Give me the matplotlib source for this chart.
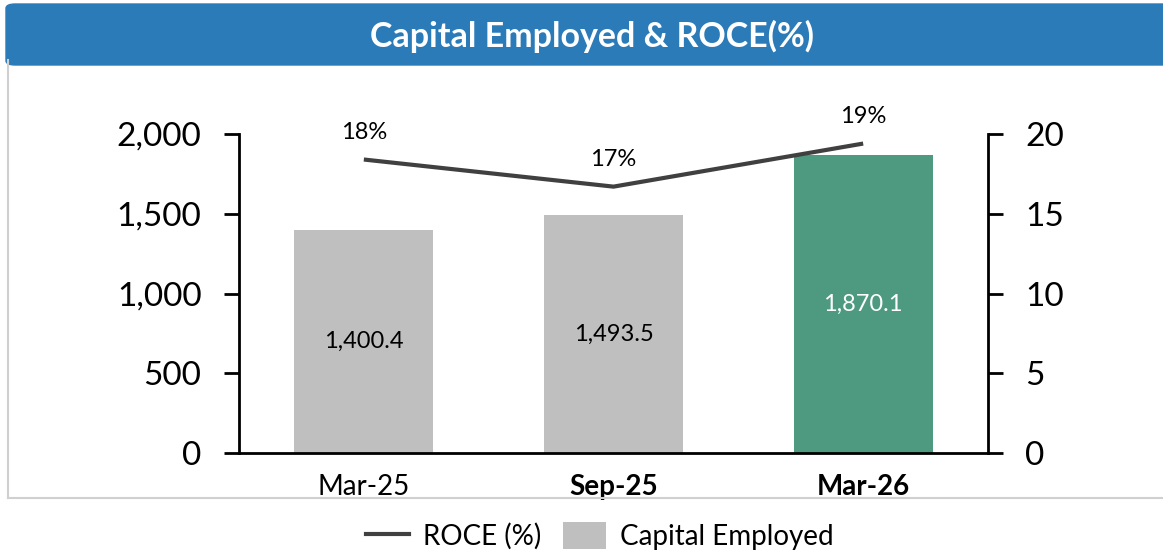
import matplotlib
matplotlib.use("Agg")
import matplotlib.pyplot as plt
from matplotlib.patches import FancyBboxPatch, Rectangle
from matplotlib.lines import Line2D

categories = ["Mar-25", "Sep-25", "Mar-26"]
capital_employed = [1400.4, 1493.5, 1870.1]
roce = [18.4, 16.7, 19.4]
roce_labels = ["18%", "17%", "19%"]
bar_labels = ["1,400.4", "1,493.5", "1,870.1"]
bold_ticks = [False, True, True]
left_ticks = [0, 500, 1000, 1500, 2000]
left_tick_labels = ["0", "500", "1,000", "1,500", "2,000"]
right_ticks = [0, 5, 10, 15, 20]

plt.rcParams['font.family'] = ['Lato', 'DejaVu Sans']

W, H = 1163, 555
fig = plt.figure(figsize=(W / 100, H / 100), dpi=100)

# outer frame and header
fig.add_artist(Line2D([8 / W, 8 / W], [1 - 60 / H, 1 - 498 / H], color="#D0D0D0", lw=1.5, transform=fig.transFigure))
fig.add_artist(Line2D([8 / W, 1.0], [1 - 498 / H, 1 - 498 / H], color="#D0D0D0", lw=1.5, transform=fig.transFigure))
hdr = FancyBboxPatch((6 / W, 1 - 65 / H), 1.05 - 6 / W, 61 / H,
                     boxstyle="round,pad=0,rounding_size=0.008",
                     transform=fig.transFigure, facecolor="#2B7BB9", edgecolor="#2B7BB9", mutation_aspect=H / W * 2)
fig.add_artist(hdr)
fig.text(592 / W, 1 - 36 / H, "Capital Employed & ROCE(%)", color="white", fontsize=24.5,
         fontweight="bold", ha="center", va="center")

ax = fig.add_axes([239 / W, 1 - 453 / H, (988 - 239) / W, (453 - 134) / H])
x = list(range(len(categories)))
colors = ["#BFBFBF", "#BFBFBF", "#4E9A80"]
bars = ax.bar(x, capital_employed, width=0.556, color=colors, zorder=2)
ax.set_xlim(-0.5, 2.5)
ax.set_ylim(0, 2000)
ax.set_yticks(left_ticks)
ax.set_yticklabels(left_tick_labels, fontsize=24)
ax.set_xticks(x)
ax.set_xticklabels(categories, fontsize=20)
for lbl, b in zip(ax.get_xticklabels(), bold_ticks):
    if b:
        lbl.set_fontweight("bold")
ax.tick_params(axis="x", length=0, pad=15)
ax.tick_params(axis="y", length=11, width=2, pad=16)
for s in ["top", "right"]:
    ax.spines[s].set_visible(False)
ax.spines["left"].set_linewidth(2)
ax.spines["bottom"].set_linewidth(2)

for i, (v, t) in enumerate(zip(capital_employed, bar_labels)):
    ax.text(i, v / 2, t, ha="center", va="center", fontsize=17,
            color="white" if i == 2 else "black", zorder=4)

ax2 = ax.twinx()
ax2.set_ylim(0, 20)
ax2.set_yticks(right_ticks)
ax2.set_yticklabels([str(t) for t in right_ticks], fontsize=24)
ax2.tick_params(axis="y", length=11, width=2, pad=16)
for s in ["top", "left", "bottom"]:
    ax2.spines[s].set_visible(False)
ax2.spines["right"].set_linewidth(2)
ax2.plot(x, roce, color="#404040", lw=3, zorder=3, solid_capstyle="butt")
for i, (v, t) in enumerate(zip(roce, roce_labels)):
    ax2.annotate(t, (i, v), xytext=(0, 12), textcoords="offset points",
                 ha="center", va="bottom", fontsize=17)

handles = [Line2D([0], [0], color="#404040", lw=3),
           Rectangle((0, 0), 1, 1, facecolor="#BFBFBF")]
fig.legend(handles, ["ROCE (%)", "Capital Employed"], loc="center",
           bbox_to_anchor=(600 / W, 1 - 536 / H), ncol=2, frameon=False,
           fontsize=20, handlelength=1.55, handleheight=1.1, columnspacing=0.8, handletextpad=0.5)

fig.savefig("out.png", dpi=100)
